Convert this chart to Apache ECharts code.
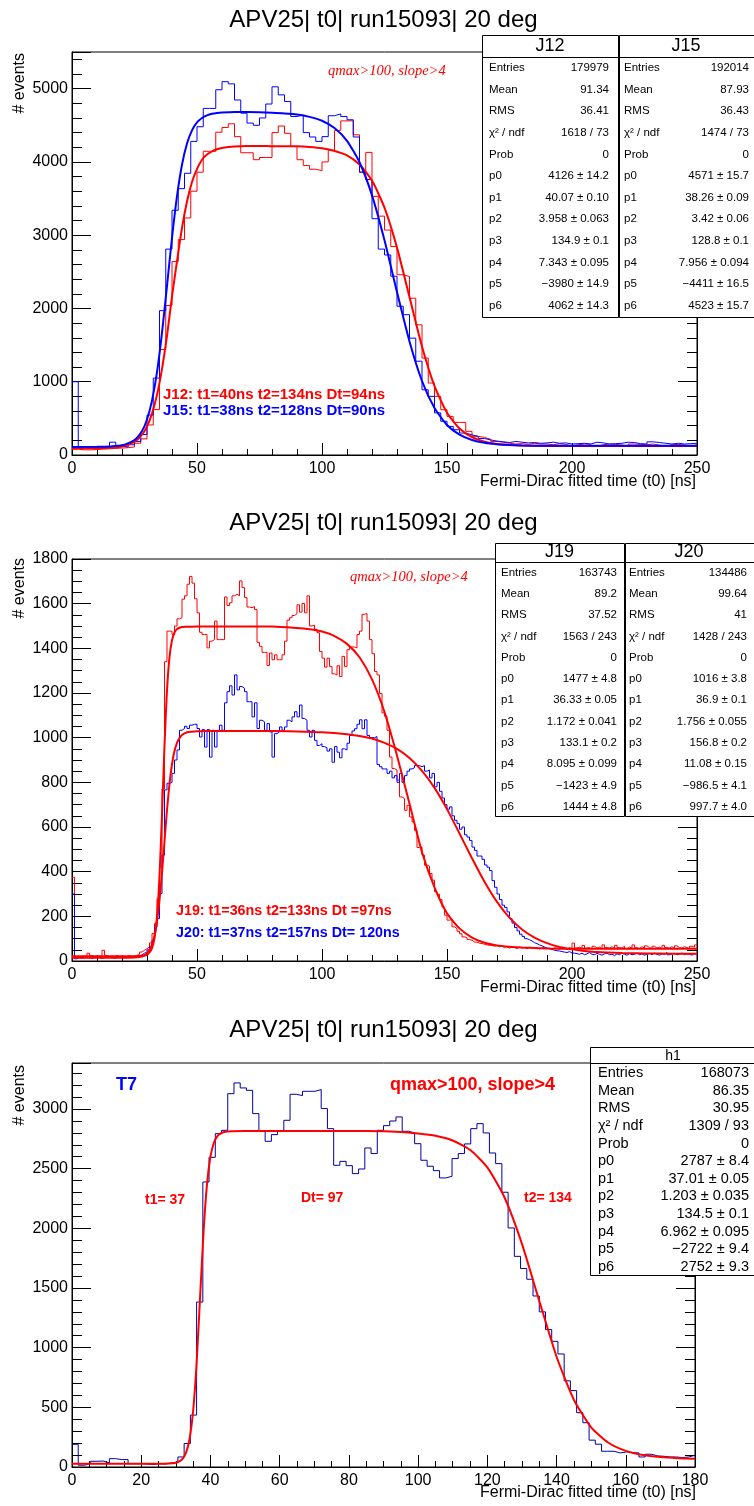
<!DOCTYPE html>
<html><head><meta charset="utf-8">
<script src="https://cdn.jsdelivr.net/npm/echarts@6/dist/echarts.min.js"></script>
<style>html,body{margin:0;padding:0;background:#fff;}#c{width:754px;height:1506px;}</style>
</head><body><div id="c"></div>
<script>
// ---------------- DATA ----------------
const title = "APV25| t0| run15093| 20 deg";
const xTitle = "Fermi-Dirac fitted time (t0) [ns]";
const yTitle = "# events";

// Panel 1 : 100 bins, width 2.5 ns
const p1BinWidth = 2.5;
const histJ12 = [80,70,70,75,80,85,90,95,100,110,
160,220,410,620,1440,2040,2640,2940,3235,3600,
3860,4145,4145,4405,4470,4520,4345,4125,4125,4030,
4060,4060,4400,4490,4390,4210,4030,3950,3900,3880,
4000,4160,4430,4560,4560,4370,3860,4130,3530,3260,
3070,2845,2460,2436,2140,1777,1323,982,800,618,
527,445,445,323,255,240,215,185,175,160,
150,155,145,160,150,150,140,155,145,120,
140,150,145,115,140,150,145,135,120,150,
145,140,150,135,120,140,145,135,120,140];
const histJ15 = [1000,95,100,100,110,115,175,120,110,140,
185,280,545,1050,1970,2810,3340,3635,3845,4280,
4480,4730,4730,4985,5095,5065,4845,4665,4530,4500,
4600,4790,5025,4915,4825,4620,4640,4400,4340,4280,
4345,4630,4655,4620,4575,4340,3860,3760,3225,2810,
2730,2440,2030,1915,1595,1280,890,800,575,460,
390,345,300,275,255,225,205,190,180,170,
185,175,165,170,160,165,175,160,165,150,
155,160,150,175,165,150,155,160,175,170,
155,150,180,170,160,150,160,150,155,160];
const fitJ12 = [[0,90],[10,92],[15,98],[20,116],[25,180],[28,277],[30,391],[32,565],[34,821],[36,1176],[38,1625],[40,2165],[42,2645],[44,3100],[46,3460],[48,3725],[50,3905],[52,4030],[54,4100],[56,4143],[58,4172],[60,4190],[65,4210],[70,4216],[75,4216],[80,4215],[85,4214],[90,4213],[95,4203],[100,4185],[105,4150],[110,4090],[115,3965],[120,3745],[125,3375],[130,2830],[135,2155],[140,1480],[145,940],[150,578],[155,362],[160,244],[165,182],[170,150],[175,136],[180,128],[190,123],[200,122],[210,122],[225,122],[250,122]];
const fitJ15 = [[0,110],[10,111],[15,116],[20,132],[25,203],[28,327],[30,485],[32,742],[34,1131],[36,1667],[38,2309],[40,2965],[42,3534],[44,3962],[46,4250],[48,4430],[50,4538],[52,4600],[54,4635],[56,4656],[58,4667],[60,4673],[65,4680],[70,4680],[75,4677],[80,4671],[85,4662],[90,4647],[95,4615],[100,4562],[105,4463],[110,4288],[115,3995],[120,3544],[125,2931],[130,2223],[135,1550],[140,1010],[145,640],[150,410],[155,278],[160,205],[165,166],[170,146],[175,136],[180,130],[190,125],[200,125],[210,125],[225,125],[250,125]];

// Panel 2 : 250 bins, width 1 ns
const p2BinWidth = 1;
const histJ19 = [375,15,20,18,22,20,35,25,20,18,
22,20,48,25,20,22,18,25,20,22,
18,20,24,20,22,25,30,40,48,55,
63,81,123,168,280,421,770,1340,1477,1477,
1462,1500,1532,1537,1620,1635,1687,1722,1692,1622,
1559,1472,1462,1462,1402,1432,1439,1522,1439,1439,
1439,1630,1592,1604,1635,1642,1635,1702,1672,1627,
1585,1582,1587,1574,1427,1409,1382,1382,1323,1379,
1349,1371,1349,1349,1371,1432,1526,1537,1547,1555,
1595,1562,1601,1559,1635,1500,1504,1485,1470,1386,
1356,1316,1356,1319,1286,1281,1322,1274,1364,1319,
1394,1406,1406,1402,1462,1477,1552,1556,1522,1439,
1376,1296,1281,1198,1111,1096,1033,913,862,855,
810,735,727,675,697,645,623,585,508,511,
474,429,425,392,362,310,299,275,242,205,
183,186,153,145,133,122,108,105,96,93,
85,84,80,78,75,72,70,70,66,68,
64,66,60,64,58,62,60,56,62,58,
60,55,62,58,56,60,54,58,62,56,
58,52,60,56,55,62,58,54,60,56,
80,58,62,56,70,58,60,54,66,58,
62,56,72,60,58,64,56,70,60,58,
66,56,62,58,72,60,56,64,58,68,
60,56,66,58,62,56,70,60,58,64,
56,68,60,58,64,60,56,66,62,72];
const histJ20 = [300,10,15,12,15,18,15,12,15,18,
15,12,15,18,20,15,12,15,18,15,
14,16,18,15,17,20,22,28,35,40,
50,65,93,152,190,302,474,766,796,799,
840,900,945,1033,1041,1051,1041,1056,1060,1060,
1041,1003,1036,958,1036,913,1033,958,1033,1056,
1033,1156,1206,1232,1191,1281,1214,1229,1221,1206,
1161,1161,1093,1156,1041,1078,1071,1033,1063,1026,
913,1018,1026,1048,1033,1048,1078,1071,1093,1116,
1093,1146,1086,1078,1033,1003,1033,988,965,973,
960,955,940,950,890,960,935,910,950,945,
975,1010,1030,1040,1060,1080,1040,1080,1010,1000,
1000,1005,880,870,860,860,840,850,820,830,
800,840,800,830,850,860,865,875,875,870,
875,850,855,820,840,780,800,760,730,700,
680,690,650,630,615,590,600,565,555,540,
510,495,470,470,455,430,420,405,360,330,
300,275,250,240,220,190,170,150,135,120,
110,100,95,90,82,78,72,68,62,58,
55,52,48,46,45,42,40,38,42,36,
35,33,30,35,28,32,38,30,28,34,
30,26,32,35,28,30,24,32,28,35,
30,26,33,28,30,36,28,32,26,30,
34,28,36,30,26,32,30,38,28,32,
34,28,30,36,28,32,30,26,34,30];
const fitJ19 = [[0,21],[10,21],[20,21],[25,21],[28,23],[30,28],[31,38],[32,57],[33,103],[34,199],[35,380],[36,656],[37,965],[38,1212],[39,1361],[40,1436],[41,1471],[42,1486],[43,1492],[44,1496],[46,1497],[50,1498],[60,1498],[70,1498],[80,1498],[90,1491],[95,1485],[100,1475],[105,1455],[110,1420],[115,1360],[120,1261],[125,1115],[130,920],[135,704],[140,487],[145,330],[150,214],[155,146],[160,105],[165,82],[170,70],[175,64],[180,60],[190,56],[200,55],[225,55],[250,55]];
const fitJ20 = [[0,14],[10,14],[20,14],[25,16],[28,20],[30,34],[31,50],[32,73],[33,113],[34,178],[35,271],[36,395],[37,536],[38,676],[39,794],[40,881],[41,940],[42,977],[43,998],[44,1012],[46,1024],[48,1027],[50,1029],[60,1030],[70,1030],[80,1030],[90,1028],[100,1024],[110,1015],[115,1007],[120,996],[125,977],[130,950],[135,909],[140,851],[145,775],[150,680],[155,571],[160,460],[165,355],[170,265],[175,194],[180,141],[185,105],[190,80],[195,63],[200,52],[205,45],[210,40],[220,36],[230,34],[240,33],[250,33]];

// Panel 3 : 100 bins, width 1.8 ns
const p3BinWidth = 1.8;
const histT7 = [190,15,28,48,50,35,70,62,62,28,
28,25,20,28,25,34,42,84,197,435,
1382,2388,2595,2793,2821,3128,3218,3176,3156,2961,
2813,2729,2785,2813,2905,3123,3112,3148,3148,3162,
3003,2835,2528,2561,2525,2458,2497,2673,2626,2821,
2860,2899,2933,2813,2800,2709,2570,2520,2483,2422,
2436,2584,2626,2707,2835,2877,2799,2631,2542,2302,
2003,1765,1663,1573,1433,1300,1152,1053,947,722,
640,455,371,225,191,132,132,118,126,121,
118,84,107,93,90,84,84,79,84,98];
const fitT7 = [[0,28],[10,28],[20,28],[25,28],[28,30],[30,36],[31,48],[32,71],[33,124],[34,239],[35,469],[36,869],[37,1421],[38,1965],[39,2368],[40,2601],[41,2717],[42,2772],[43,2795],[44,2807],[46,2814],[50,2815],[60,2815],[70,2815],[80,2815],[90,2814],[95,2807],[100,2795],[105,2776],[110,2736],[115,2658],[120,2510],[125,2256],[130,1870],[135,1392],[140,924],[145,564],[150,333],[155,203],[160,135],[165,100],[170,83],[175,74],[180,70]];

// Stat boxes
const statLabels = ["Entries","Mean","RMS","\u03C7\u00B2 / ndf","Prob","p0","p1","p2","p3","p4","p5","p6"];
const statJ12 = ["179979","91.34","36.41","1618 / 73","0","4126 \u00B1 14.2","40.07 \u00B1 0.10","3.958 \u00B1 0.063","134.9 \u00B1 0.1","7.343 \u00B1 0.095","\u22123980 \u00B1 14.9","4062 \u00B1 14.3"];
const statJ15 = ["192014","87.93","36.43","1474 / 73","0","4571 \u00B1 15.7","38.26 \u00B1 0.09","3.42 \u00B1 0.06","128.8 \u00B1 0.1","7.956 \u00B1 0.094","\u22124411 \u00B1 16.5","4523 \u00B1 15.7"];
const statJ19 = ["163743","89.2","37.52","1563 / 243","0","1477 \u00B1 4.8","36.33 \u00B1 0.05","1.172 \u00B1 0.041","133.1 \u00B1 0.2","8.095 \u00B1 0.099","\u22121423 \u00B1 4.9","1444 \u00B1 4.8"];
const statJ20 = ["134486","99.64","41","1428 / 243","0","1016 \u00B1 3.8","36.9 \u00B1 0.1","1.756 \u00B1 0.055","156.8 \u00B1 0.2","11.08 \u00B1 0.15","\u2212986.5 \u00B1 4.1","997.7 \u00B1 4.0"];
const statH1 = ["168073","86.35","30.95","1309 / 93","0","2787 \u00B1 8.4","37.01 \u00B1 0.05","1.203 \u00B1 0.035","134.5 \u00B1 0.1","6.962 \u00B1 0.095","\u22122722 \u00B1 9.4","2752 \u00B1 9.3"];

const cutText = "qmax>100, slope>4";
const p1Notes = ["J12: t1=40ns t2=134ns Dt=94ns", "J15: t1=38ns t2=128ns Dt=90ns"];
const p2Notes = ["J19: t1=36ns t2=133ns Dt =97ns", "J20: t1=37ns t2=157ns Dt= 120ns"];
const p3Notes = ["T7", "t1= 37", "Dt= 97", "t2= 134"];

// ---------------- BUILD ----------------
const SANS = '"Liberation Sans", Arial, Helvetica, sans-serif';
const SERIF = '"Liberation Serif", "Times New Roman", serif';
const RED = '#ff0000', BLUE = '#0000ff', NAVY = '#0000a0';

function hist(vals, w) {
  const d = vals.map((v, i) => [i * w, v]);
  d.push([vals.length * w, vals[vals.length - 1]]);
  return d;
}
function histSeries(g, vals, w, color) {
  return { type: 'line', xAxisIndex: g, yAxisIndex: 2 * g, data: hist(vals, w), step: 'end',
    symbol: 'none', showSymbol: false, lineStyle: { color: color, width: 1 }, itemStyle: { color: color },
    z: 2, silent: true, clip: true };
}
function fitSeries(g, pts, color) {
  return { type: 'line', xAxisIndex: g, yAxisIndex: 2 * g, data: pts, smooth: 0.2,
    symbol: 'none', showSymbol: false, lineStyle: { color: color, width: 2 }, itemStyle: { color: color },
    z: 3, silent: true, clip: true };
}
const plain = v => String(v);
function xAx(g, max, interval, minorSplit) {
  return { type: 'value', gridIndex: g, min: 0, max: max, interval: interval,
    axisLine: { show: true, onZero: false, lineStyle: { color: '#000', width: 1 } },
    axisTick: { show: true, inside: true, length: 12, lineStyle: { color: '#000', width: 1 } },
    minorTick: { show: true, splitNumber: minorSplit, length: 6, lineStyle: { color: '#000', width: 1 } },
    splitLine: { show: false }, minorSplitLine: { show: false },
    axisLabel: { color: '#000', fontSize: 16, fontFamily: SANS, margin: 6, formatter: plain } };
}
function yAx(g, max, interval, minorSplit, showMax, right) {
  return { type: 'value', gridIndex: g, min: 0, max: max, interval: interval, position: right ? 'right' : 'left',
    axisLine: { show: true, onZero: false, lineStyle: { color: '#000', width: 1 } },
    axisTick: { show: true, inside: true, length: 19, lineStyle: { color: '#000', width: 1 } },
    minorTick: { show: true, splitNumber: minorSplit, length: 10, lineStyle: { color: '#000', width: 1 } },
    splitLine: { show: false }, minorSplitLine: { show: false },
    axisLabel: { show: !right, color: '#000', fontSize: 16, fontFamily: SANS, margin: 4, showMaxLabel: showMax, formatter: plain } };
}
function txt(x, y, text, font, fill, align, vAlign, extra) {
  return Object.assign({ type: 'text', x: x, y: y, z: 110, silent: true,
    style: { text: text, font: font, fill: fill, align: align, textAlign: align,
      verticalAlign: vAlign, textVerticalAlign: vAlign } }, extra || {});
}
function statBox(b) {
  const els = [];
  els.push({ type: 'rect', z: 100, silent: true, shape: { x: b.x + 0.5, y: b.y + 0.5, width: b.w, height: b.h },
    style: { fill: '#fff', stroke: '#000', lineWidth: 1 } });
  els.push({ type: 'line', z: 101, silent: true, shape: { x1: b.x, y1: b.hy + 0.5, x2: b.x + b.w, y2: b.hy + 0.5 },
    style: { stroke: '#000', lineWidth: 1 } });
  els.push(txt(b.tx, b.ty, b.title, b.titleFont, '#000', 'center', 'middle'));
  statLabels.forEach((l, i) => {
    els.push(txt(b.lx, b.ry0 + i * b.rs, l, b.font, '#000', 'left', 'middle'));
    els.push(txt(b.vx, b.ry0 + i * b.rs, b.values[i], b.font, '#000', 'right', 'middle'));
  });
  return els;
}

const graphics = [];
[20, 523, 1030].forEach(y => graphics.push(txt(383.5, y, title, '24px ' + SANS, '#000', 'center', 'middle')));
[53, 558, 1065].forEach(y => graphics.push(txt(20, y, yTitle, '16px ' + SANS, '#000', 'right', 'middle', { rotation: Math.PI / 2 })));
[482, 988, 1493].forEach(y => graphics.push(txt(696, y, xTitle, '16px ' + SANS, '#000', 'right', 'middle')));

graphics.push(txt(328, 71, cutText, 'italic 14.5px ' + SERIF, RED, 'left', 'middle'));
graphics.push(txt(163, 395, p1Notes[0], 'bold 15px ' + SANS, RED, 'left', 'middle'));
graphics.push(txt(163, 411, p1Notes[1], 'bold 15px ' + SANS, BLUE, 'left', 'middle'));
graphics.push(txt(350, 577, cutText, 'italic 14.5px ' + SERIF, RED, 'left', 'middle'));
graphics.push(txt(176, 911, p2Notes[0], 'bold 14.3px ' + SANS, RED, 'left', 'middle'));
graphics.push(txt(176, 933, p2Notes[1], 'bold 14.3px ' + SANS, BLUE, 'left', 'middle'));
graphics.push(txt(116, 1085, p3Notes[0], 'bold 18px ' + SANS, BLUE, 'left', 'middle'));
graphics.push(txt(390, 1085, cutText, 'bold 18px ' + SANS, RED, 'left', 'middle'));
graphics.push(txt(145, 1200, p3Notes[1], 'bold 14px ' + SANS, RED, 'left', 'middle'));
graphics.push(txt(301, 1198, p3Notes[2], 'bold 14px ' + SANS, RED, 'left', 'middle'));
graphics.push(txt(524, 1198, p3Notes[3], 'bold 14px ' + SANS, RED, 'left', 'middle'));

const jf = '11.5px ' + SANS;
graphics.push(...statBox({ x: 482, y: 35, w: 136, h: 282, hy: 57, title: 'J12', titleFont: '18px ' + SANS, tx: 550, ty: 46,
  lx: 489, vx: 609, ry0: 68, rs: 21.6, font: jf, values: statJ12 }));
graphics.push(...statBox({ x: 619, y: 35, w: 140, h: 282, hy: 57, title: 'J15', titleFont: '18px ' + SANS, tx: 686, ty: 46,
  lx: 624, vx: 749, ry0: 68, rs: 21.6, font: jf, values: statJ15 }));
graphics.push(...statBox({ x: 495, y: 543, w: 129, h: 273, hy: 562, title: 'J19', titleFont: '18px ' + SANS, tx: 559.5, ty: 552,
  lx: 501, vx: 617, ry0: 572.7, rs: 21.27, font: jf, values: statJ19 }));
graphics.push(...statBox({ x: 625, y: 543, w: 140, h: 273, hy: 562, title: 'J20', titleFont: '18px ' + SANS, tx: 689, ty: 552,
  lx: 629, vx: 747, ry0: 572.7, rs: 21.27, font: jf, values: statJ20 }));
graphics.push(...statBox({ x: 590, y: 1047, w: 170, h: 228, hy: 1063, title: 'h1', titleFont: '14px ' + SANS, tx: 673, ty: 1056,
  lx: 598, vx: 749, ry0: 1073.3, rs: 17.58, font: '14.5px ' + SANS, values: statH1 }));

const option = {
  animation: false,
  backgroundColor: '#fff',
  textStyle: { fontFamily: SANS },
  grid: [
    { left: 72, top: 52, width: 625, height: 403, show: true, borderColor: '#000', borderWidth: 1, backgroundColor: 'transparent' },
    { left: 72, top: 559, width: 625, height: 402, show: true, borderColor: '#000', borderWidth: 1, backgroundColor: 'transparent' },
    { left: 72, top: 1063, width: 623, height: 404, show: true, borderColor: '#000', borderWidth: 1, backgroundColor: 'transparent' }
  ],
  xAxis: [ xAx(0, 250, 50, 5), xAx(1, 250, 50, 5), xAx(2, 180, 20, 4) ],
  yAxis: [
    yAx(0, 5500, 1000, 5, false, false), yAx(0, 5500, 1000, 5, false, true),
    yAx(1, 1800, 200, 4, true, false), yAx(1, 1800, 200, 4, true, true),
    yAx(2, 3385, 500, 5, false, false), yAx(2, 3385, 500, 5, false, true)
  ],
  series: [
    histSeries(0, histJ12, p1BinWidth, RED),
    histSeries(0, histJ15, p1BinWidth, BLUE),
    fitSeries(0, fitJ12, RED),
    fitSeries(0, fitJ15, BLUE),
    histSeries(1, histJ19, p2BinWidth, RED),
    histSeries(1, histJ20, p2BinWidth, BLUE),
    fitSeries(1, fitJ19, RED),
    fitSeries(1, fitJ20, RED),
    histSeries(2, histT7, p3BinWidth, NAVY),
    fitSeries(2, fitT7, RED)
  ],
  graphic: { elements: graphics }
};
const chart = echarts.init(document.getElementById('c'), null, { renderer: 'canvas' });
chart.setOption(option);
</script></body></html>
